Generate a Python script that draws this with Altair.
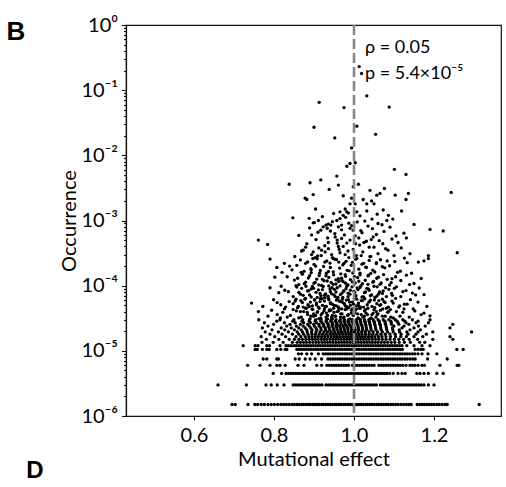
import math
import altair as alt
import pandas as pd

# ---------------- data ----------------
# discrete occurrence levels at the bottom (multiples of ~1.5e-6)
occ_levels = [1.5e-6, 3.0e-6, 4.5e-6, 6.0e-6, 7.5e-6, 9.0e-6, 1.05e-5, 1.2e-5, 1.35e-5, 1.5e-5,
              1.65e-5, 1.8e-5, 1.95e-5, 2.1e-5, 2.25e-5, 2.4e-5, 2.55e-5, 2.7e-5, 2.85e-5, 3.0e-5]

level_01_x = [0.695, 0.703, 0.735, 0.752, 0.759, 0.768, 0.776, 0.785, 0.793, 0.801, 0.809, 0.817, 0.824,
              0.831, 0.838, 0.845, 0.851, 0.857, 0.863, 0.869, 0.874, 0.880, 0.886, 0.891, 0.897, 0.902,
              0.908, 0.913, 0.919, 0.924, 0.930, 0.935, 0.941, 0.946, 0.952, 0.957, 0.963, 0.968, 0.974,
              0.979, 0.985, 0.990, 0.996, 1.001, 1.007, 1.012, 1.018, 1.023, 1.029, 1.034, 1.040, 1.045,
              1.051, 1.057, 1.062, 1.068, 1.074, 1.080, 1.086, 1.092, 1.098, 1.104, 1.110, 1.117, 1.124,
              1.131, 1.137, 1.143, 1.158, 1.164, 1.170, 1.176, 1.182, 1.188, 1.194, 1.200, 1.207, 1.213,
              1.220, 1.227, 1.233, 1.313]
level_02_x = [0.660, 0.731, 0.780, 0.793, 0.808, 0.825, 0.848, 0.854, 0.860, 0.866, 0.872, 0.878, 0.884,
              0.890, 0.896, 0.902, 0.908, 0.914, 0.920, 0.930, 0.936, 0.942, 0.948, 0.954, 0.960, 0.966,
              0.972, 0.978, 0.984, 0.990, 0.996, 1.002, 1.008, 1.014, 1.020, 1.026, 1.032, 1.038, 1.044,
              1.050, 1.056, 1.066, 1.072, 1.078, 1.084, 1.090, 1.096, 1.102, 1.108, 1.114, 1.120, 1.126,
              1.132, 1.138, 1.144, 1.150, 1.156, 1.162, 1.168, 1.175, 1.186, 1.200]
level_03_x = [0.798, 0.819, 0.830, 0.836, 0.842, 0.848, 0.854, 0.860, 0.866, 0.872, 0.878, 0.884, 0.890,
              0.896, 0.902, 0.908, 0.914, 0.920, 0.926, 0.932, 0.938, 0.944, 0.950, 0.956, 0.962, 0.968,
              0.974, 0.980, 0.986, 0.992, 0.998, 1.004, 1.010, 1.016, 1.022, 1.028, 1.034, 1.040, 1.046,
              1.052, 1.058, 1.064, 1.070, 1.076, 1.082, 1.089, 1.098, 1.110, 1.120, 1.128, 1.157, 1.165,
              1.175, 1.186, 1.207, 1.223]
level_04_x = [0.734, 0.765, 0.790, 0.807, 0.815, 0.828, 0.860, 0.875, 0.907, 0.919, 0.932, 0.938, 0.944,
              0.950, 0.956, 0.962, 0.968, 0.974, 0.980, 0.986, 0.996, 1.002, 1.008, 1.014, 1.020, 1.026,
              1.032, 1.038, 1.044, 1.050, 1.062, 1.068, 1.074, 1.080, 1.086, 1.092, 1.098, 1.104, 1.110,
              1.116, 1.122, 1.130, 1.140, 1.146, 1.152, 1.160, 1.170, 1.176, 1.215, 1.258, 1.262]
level_05_x = [0.773, 0.782, 0.807, 0.811, 0.853, 0.863, 0.878, 0.890, 0.903, 0.919, 0.935, 0.941, 0.947,
              0.953, 0.959, 0.965, 0.971, 0.977, 0.983, 0.989, 0.995, 1.001, 1.007, 1.013, 1.019, 1.025,
              1.031, 1.037, 1.043, 1.049, 1.055, 1.061, 1.067, 1.073, 1.079, 1.085, 1.091, 1.097, 1.103,
              1.109, 1.115, 1.121, 1.127, 1.133, 1.140, 1.147, 1.153, 1.184, 1.233]
level_06_x = [0.861, 0.869, 0.882, 0.894, 0.911, 0.923, 0.929, 0.935, 0.941, 0.947, 0.953, 0.959, 0.965,
              0.971, 0.977, 0.983, 0.989, 0.995, 1.001, 1.007, 1.013, 1.019, 1.025, 1.031, 1.037, 1.043,
              1.049, 1.055, 1.061, 1.067, 1.073, 1.079, 1.085, 1.091, 1.097, 1.103, 1.109, 1.115, 1.121,
              1.127, 1.133, 1.139, 1.146, 1.152, 1.160, 1.170, 1.185, 1.207]
level_07_x = [0.753, 0.758, 0.771, 0.782, 0.788, 0.807, 0.817, 0.828, 0.832, 0.857, 0.863, 0.869, 0.875,
              0.881, 0.887, 0.893, 0.899, 0.905, 0.911, 0.917, 0.923, 0.929, 0.935, 0.941, 0.947, 0.953,
              0.959, 0.965, 0.971, 0.977, 0.983, 0.989, 0.995, 1.001, 1.007, 1.013, 1.019, 1.025, 1.031,
              1.037, 1.043, 1.049, 1.055, 1.061, 1.067, 1.073, 1.079, 1.085, 1.091, 1.097, 1.103, 1.109,
              1.115, 1.121, 1.153, 1.160, 1.167, 1.173, 1.257, 1.273]
level_08_x = [0.723, 0.753, 0.760, 0.782, 0.789, 0.815, 0.830, 0.836, 0.843, 0.850, 0.856, 0.862, 0.868,
              0.874, 0.880, 0.886, 0.892, 0.898, 0.904, 0.910, 0.916, 0.922, 0.928, 0.934, 0.940, 0.946,
              0.952, 0.958, 0.964, 0.970, 0.976, 0.982, 0.988, 0.994, 1.000, 1.006, 1.012, 1.018, 1.024,
              1.030, 1.036, 1.042, 1.048, 1.054, 1.060, 1.066, 1.072, 1.078, 1.084, 1.090, 1.096, 1.102,
              1.108, 1.114, 1.120, 1.132, 1.150, 1.170, 1.190]
level_09_x = [0.770, 0.798, 0.823, 0.846, 0.858, 0.866, 0.874, 0.881, 0.889, 0.897, 0.905, 0.912, 0.920,
              0.927, 0.934, 0.941, 0.948, 0.955, 0.962, 0.969, 0.976, 0.983, 0.990, 0.997, 1.004, 1.011,
              1.018, 1.025, 1.032, 1.039, 1.046, 1.053, 1.060, 1.068, 1.076, 1.084, 1.093, 1.102, 1.113,
              1.126, 1.141, 1.164, 1.177]
level_10_x = [0.781, 0.812, 0.838, 0.851, 0.862, 0.871, 0.880, 0.888, 0.896, 0.903, 0.910, 0.918, 0.925,
              0.932, 0.940, 0.947, 0.954, 0.961, 0.968, 0.975, 0.982, 0.989, 0.996, 1.003, 1.010, 1.017,
              1.024, 1.031, 1.038, 1.046, 1.054, 1.062, 1.071, 1.080, 1.090, 1.101, 1.112, 1.124, 1.138,
              1.159, 1.197, 1.247]
level_11_x = [0.768, 0.802, 0.829, 0.855, 0.867, 0.878, 0.887, 0.895, 0.903, 0.911, 0.919, 0.927, 0.935,
              0.943, 0.951, 0.958, 0.965, 0.972, 0.979, 0.986, 0.993, 1.000, 1.007, 1.014, 1.021, 1.028,
              1.036, 1.044, 1.052, 1.061, 1.070, 1.080, 1.091, 1.104, 1.117, 1.131, 1.150, 1.172, 1.240]
level_12_x = [0.790, 0.820, 0.846, 0.862, 0.874, 0.885, 0.895, 0.904, 0.913, 0.922, 0.931, 0.940, 0.948,
              0.956, 0.964, 0.972, 0.980, 0.988, 0.996, 1.004, 1.012, 1.020, 1.029, 1.038, 1.047, 1.057,
              1.067, 1.078, 1.090, 1.103, 1.118, 1.135, 1.155, 1.181]
level_13_x = [0.778, 0.811, 0.836, 0.858, 0.871, 0.883, 0.894, 0.905, 0.915, 0.925, 0.934, 0.943, 0.952,
              0.961, 0.969, 0.977, 0.985, 0.993, 1.001, 1.010, 1.019, 1.028, 1.038, 1.048, 1.059, 1.071,
              1.084, 1.098, 1.114, 1.132, 1.160, 1.197, 1.294]
level_14_x = [0.795, 0.827, 0.851, 0.868, 0.882, 0.895, 0.907, 0.918, 0.929, 0.939, 0.949, 0.958, 0.967,
              0.976, 0.985, 0.994, 1.003, 1.012, 1.022, 1.032, 1.043, 1.055, 1.068, 1.082, 1.097, 1.113,
              1.140, 1.166]
level_15_x = [0.771, 0.818, 0.843, 0.862, 0.878, 0.892, 0.905, 0.917, 0.928, 0.938, 0.948, 0.957, 0.966,
              0.975, 0.984, 0.993, 1.002, 1.011, 1.021, 1.031, 1.042, 1.054, 1.067, 1.081, 1.096, 1.120,
              1.150, 1.240]
level_16_x = [0.785, 0.832, 0.856, 0.873, 0.888, 0.901, 0.913, 0.924, 0.935, 0.945, 0.955, 0.964, 0.973,
              0.982, 0.991, 1.000, 1.010, 1.020, 1.030, 1.041, 1.053, 1.066, 1.080, 1.100, 1.125, 1.161,
              1.178]
level_17_x = [0.799, 0.840, 0.866, 0.884, 0.899, 0.912, 0.924, 0.936, 0.947, 0.958, 0.968, 0.978, 0.988,
              0.998, 1.008, 1.018, 1.029, 1.040, 1.052, 1.065, 1.079, 1.094, 1.112, 1.137, 1.247]
level_18_x = [0.776, 0.826, 0.853, 0.874, 0.891, 0.906, 0.920, 0.933, 0.945, 0.956, 0.967, 0.977, 0.987,
              0.997, 1.007, 1.017, 1.028, 1.039, 1.051, 1.064, 1.078, 1.093, 1.110, 1.130, 1.155, 1.186]
level_19_x = [0.807, 0.847, 0.870, 0.888, 0.903, 0.917, 0.930, 0.942, 0.953, 0.964, 0.975, 0.985, 0.995,
              1.005, 1.016, 1.027, 1.038, 1.050, 1.063, 1.077, 1.092, 1.108, 1.127, 1.160]
level_20_x = [0.762, 0.815, 0.850, 0.872, 0.889, 0.904, 0.918, 0.931, 0.943, 0.955, 0.966, 0.976, 0.986,
              0.996, 1.006, 1.016, 1.026, 1.037, 1.048, 1.060, 1.073, 1.087, 1.103, 1.122, 1.146, 1.190]

level_x_lists = [level_01_x, level_02_x, level_03_x, level_04_x, level_05_x, level_06_x, level_07_x,
                 level_08_x, level_09_x, level_10_x, level_11_x, level_12_x, level_13_x, level_14_x,
                 level_15_x, level_16_x, level_17_x, level_18_x, level_19_x, level_20_x]

# cloud band 3e-5 .. 4.5e-5
band_a_x = [0.761, 0.785, 0.794, 0.808, 0.822, 0.833, 0.841, 0.848, 0.856, 0.862, 0.868, 0.874, 0.879,
            0.884, 0.890, 0.895, 0.899, 0.904, 0.908, 0.913, 0.917, 0.921, 0.926, 0.930, 0.934, 0.938,
            0.942, 0.946, 0.950, 0.954, 0.958, 0.962, 0.966, 0.970, 0.974, 0.978, 0.982, 0.986, 0.990,
            0.994, 0.998, 1.002, 1.006, 1.010, 1.014, 1.018, 1.022, 1.026, 1.030, 1.035, 1.040, 1.045,
            1.050, 1.055, 1.060, 1.066, 1.072, 1.078, 1.084, 1.091, 1.098, 1.106, 1.115, 1.125, 1.138,
            1.152, 1.175, 1.190]
band_a_y = [4.0e-5, 3.4e-5, 4.2e-5, 3.6e-5, 3.9e-5, 3.3e-5, 3.5e-5, 4.3e-5, 4.1e-5, 3.2e-5, 3.3e-5, 4.0e-5,
            4.5e-5, 3.6e-5, 3.1e-5, 4.4e-5, 3.4e-5, 3.5e-5, 3.9e-5, 4.5e-5, 3.2e-5, 3.8e-5, 4.4e-5, 3.3e-5,
            3.5e-5, 4.1e-5, 4.2e-5, 3.1e-5, 3.9e-5, 3.4e-5, 4.0e-5, 4.5e-5, 3.3e-5, 3.7e-5, 3.2e-5, 4.3e-5,
            4.4e-5, 3.6e-5, 3.1e-5, 4.2e-5, 3.5e-5, 3.8e-5, 4.4e-5, 3.2e-5, 4.5e-5, 3.6e-5, 3.3e-5, 4.1e-5,
            3.8e-5, 4.5e-5, 3.1e-5, 3.6e-5, 4.3e-5, 3.3e-5, 3.7e-5, 4.2e-5, 4.4e-5, 3.4e-5, 3.9e-5, 4.3e-5,
            3.2e-5, 4.0e-5, 3.4e-5, 4.4e-5, 3.3e-5, 4.1e-5, 3.8e-5, 3.45e-5]
# cloud band 4.5e-5 .. 6.5e-5
band_b_x = [0.744, 0.772, 0.799, 0.817, 0.829, 0.838, 0.848, 0.855, 0.861, 0.867, 0.873, 0.879, 0.885,
            0.891, 0.896, 0.901, 0.906, 0.911, 0.916, 0.921, 0.926, 0.931, 0.936, 0.941, 0.946, 0.951,
            0.956, 0.961, 0.966, 0.971, 0.976, 0.981, 0.986, 0.991, 0.996, 1.001, 1.006, 1.011, 1.016,
            1.021, 1.027, 1.033, 1.039, 1.045, 1.051, 1.057, 1.064, 1.071, 1.078, 1.086, 1.095, 1.104,
            1.114, 1.126, 1.141, 1.160, 1.182]
band_b_y = [5.4e-5, 4.8e-5, 6.1e-5, 5.1e-5, 4.7e-5, 5.7e-5, 5.3e-5, 6.2e-5, 4.8e-5, 5.9e-5, 4.7e-5, 6.4e-5,
            5.1e-5, 5.6e-5, 4.9e-5, 6.1e-5, 5.4e-5, 4.7e-5, 6.3e-5, 5.0e-5, 5.8e-5, 4.8e-5, 6.4e-5, 5.5e-5,
            5.2e-5, 4.9e-5, 6.0e-5, 4.7e-5, 5.7e-5, 6.2e-5, 5.3e-5, 4.8e-5, 6.1e-5, 5.0e-5, 5.6e-5, 6.4e-5,
            4.9e-5, 5.4e-5, 4.7e-5, 5.9e-5, 6.3e-5, 5.1e-5, 5.7e-5, 4.8e-5, 6.0e-5, 5.3e-5, 5.0e-5, 6.2e-5,
            5.5e-5, 4.7e-5, 5.8e-5, 6.4e-5, 4.9e-5, 5.2e-5, 6.1e-5, 5.6e-5, 4.8e-5]
# cloud band 6.5e-5 .. 1e-4
band_c_x = [0.790, 0.812, 0.836, 0.848, 0.857, 0.866, 0.873, 0.880, 0.887, 0.893, 0.899, 0.905, 0.911,
            0.917, 0.923, 0.929, 0.935, 0.940, 0.945, 0.950, 0.955, 0.960, 0.965, 0.970, 0.975, 0.980,
            0.985, 0.990, 0.995, 1.000, 1.005, 1.010, 1.015, 1.020, 1.026, 1.032, 1.038, 1.044, 1.050,
            1.057, 1.064, 1.071, 1.079, 1.087, 1.096, 1.106, 1.117, 1.130, 1.146, 1.163, 1.175]
band_c_y = [9.3e-5, 7.8e-5, 8.1e-5, 6.8e-5, 9.5e-5, 7.4e-5, 7.1e-5, 9.8e-5, 8.4e-5, 6.7e-5, 9.1e-5, 7.9e-5,
            8.6e-5, 7.0e-5, 9.7e-5, 7.5e-5, 6.9e-5, 8.9e-5, 9.3e-5, 7.2e-5, 8.0e-5, 6.6e-5, 9.9e-5, 7.7e-5,
            8.3e-5, 9.0e-5, 6.8e-5, 7.4e-5, 9.6e-5, 8.2e-5, 7.0e-5, 8.7e-5, 9.4e-5, 6.7e-5, 7.8e-5, 9.1e-5,
            8.5e-5, 7.2e-5, 9.8e-5, 6.9e-5, 8.0e-5, 7.6e-5, 9.3e-5, 8.8e-5, 7.1e-5, 9.6e-5, 6.8e-5, 8.4e-5,
            7.7e-5, 9.2e-5, 7.3e-5]
# cloud band 1e-4 .. 1.6e-4
band_d_x = [0.802, 0.833, 0.851, 0.862, 0.871, 0.879, 0.886, 0.893, 0.900, 0.907, 0.913, 0.919, 0.925,
            0.931, 0.937, 0.943, 0.949, 0.955, 0.961, 0.967, 0.973, 0.979, 0.985, 0.991, 0.997, 1.003,
            1.009, 1.015, 1.021, 1.028, 1.035, 1.042, 1.049, 1.057, 1.065, 1.074, 1.083, 1.093, 1.104,
            1.117, 1.131, 1.150, 1.168]
band_d_y = [1.35e-4, 1.37e-4, 1.22e-4, 1.04e-4, 1.50e-4, 1.13e-4, 1.31e-4, 1.58e-4, 1.09e-4, 1.26e-4,
            1.43e-4, 1.01e-4, 1.19e-4, 1.55e-4, 1.34e-4, 1.12e-4, 1.47e-4, 1.06e-4, 1.28e-4, 1.52e-4,
            1.15e-4, 1.39e-4, 1.03e-4, 1.24e-4, 1.57e-4, 1.10e-4, 1.33e-4, 1.46e-4, 1.07e-4, 1.21e-4,
            1.41e-4, 1.54e-4, 1.16e-4, 1.30e-4, 1.05e-4, 1.48e-4, 1.25e-4, 1.11e-4, 1.37e-4, 1.20e-4,
            1.45e-4, 1.08e-4, 1.29e-4]
# cloud band 1.6e-4 .. 2.6e-4
band_e_x = [0.790, 0.807, 0.826, 0.845, 0.857, 0.866, 0.875, 0.884, 0.892, 0.900, 0.908, 0.916, 0.924,
            0.932, 0.940, 0.948, 0.956, 0.964, 0.972, 0.980, 0.988, 0.996, 1.004, 1.012, 1.020, 1.029,
            1.038, 1.047, 1.056, 1.066, 1.077, 1.089, 1.102, 1.116, 1.133, 1.161, 1.175, 1.186]
band_e_y = [2.56e-4, 1.90e-4, 2.20e-4, 1.75e-4, 2.05e-4, 2.48e-4, 1.66e-4, 2.31e-4, 1.82e-4, 2.12e-4,
            2.58e-4, 1.71e-4, 1.97e-4, 2.40e-4, 2.22e-4, 1.63e-4, 2.52e-4, 1.86e-4, 2.08e-4, 2.36e-4,
            1.69e-4, 2.27e-4, 2.55e-4, 1.79e-4, 2.14e-4, 1.93e-4, 2.44e-4, 1.73e-4, 2.18e-4, 2.50e-4,
            1.88e-4, 2.02e-4, 2.34e-4, 1.67e-4, 2.25e-4, 2.30e-4, 2.40e-4, 2.60e-4]

# sparser upper cloud and isolated high points (effect, occurrence)
cloud_upper = [
    (0.761, 5.0e-4), (0.784, 4.3e-4), (0.852, 2.8e-4), (0.869, 3.4e-4), (0.873, 3.5e-4), (0.882, 4.4e-4),
    (0.894, 3.0e-4), (0.903, 2.7e-4), (0.912, 3.8e-4), (0.919, 3.5e-4), (0.928, 3.3e-4), (0.936, 4.6e-4),
    (0.944, 3.0e-4), (0.948, 2.6e-4), (0.953, 5.6e-4), (0.958, 5.0e-4), (0.961, 4.0e-4), (0.965, 3.2e-4),
    (0.969, 5.3e-4), (0.973, 4.0e-4), (0.978, 3.0e-4), (0.982, 4.5e-4), (0.990, 5.0e-4), (0.998, 3.6e-4),
    (1.006, 2.9e-4), (1.014, 4.2e-4), (1.022, 3.3e-4), (1.031, 4.8e-4), (1.040, 2.8e-4), (1.050, 3.9e-4),
    (1.060, 3.1e-4), (1.072, 4.4e-4), (1.085, 3.5e-4), (1.100, 2.9e-4), (1.118, 3.8e-4), (1.140, 3.1e-4),
    (1.186, 2.9e-4), (1.258, 3.2e-4),
    (0.894, 6.0e-4), (0.898, 9.2e-4), (0.911, 1.0e-3), (0.917, 7.1e-4), (0.923, 8.0e-4), (0.930, 8.5e-4),
    (0.936, 8.8e-4), (0.942, 8.5e-4), (0.933, 7.6e-4), (0.957, 1.0e-3), (0.965, 1.07e-3), (0.961, 8.0e-4),
    (0.969, 8.5e-4), (0.990, 7.6e-4), (0.998, 7.1e-4), (0.847, 1.1e-3), (0.888, 1.08e-3), (0.901, 9.3e-4),
    (1.008, 9.5e-4), (1.020, 6.5e-4), (1.035, 8.2e-4), (1.048, 5.6e-4), (1.060, 9.0e-4), (1.075, 6.8e-4),
    (1.090, 7.9e-4), (1.105, 5.8e-4), (1.125, 6.4e-4), (1.150, 8.7e-4), (1.190, 7.3e-4), (1.223, 6.9e-4),
    (1.045, 1.05e-3), (1.082, 1.0e-3),
    (0.973, 1.2e-3), (0.982, 1.36e-3), (0.965, 1.36e-3), (0.978, 1.5e-3), (0.986, 1.3e-3), (1.007, 1.36e-3),
    (1.032, 1.4e-3), (1.073, 1.45e-3), (1.086, 1.2e-3), (1.119, 1.4e-3), (0.904, 1.5e-3), (0.990, 1.8e-3),
    (1.003, 1.8e-3), (1.032, 1.8e-3), (1.050, 1.8e-3), (1.044, 2.0e-3), (1.023, 2.1e-3), (0.994, 2.2e-3),
    (0.878, 2.2e-3), (0.882, 2.1e-3), (0.973, 2.4e-3), (0.898, 2.5e-3), (1.057, 2.45e-3), (1.065, 2.6e-3),
    (1.103, 2.45e-3), (1.130, 2.1e-3), (1.136, 2.6e-3), (1.243, 2.7e-3), (0.938, 3.0e-3), (1.076, 3.1e-3),
    (1.040, 2.9e-3), (0.998, 3.3e-3), (0.838, 3.6e-3), (0.890, 3.8e-3), (0.917, 4.2e-3), (0.961, 3.5e-3),
    (1.011, 3.6e-3), (0.957, 4.8e-3), (1.101, 6.1e-3), (1.130, 5.1e-3), (0.982, 6.8e-3), (0.990, 7.5e-3),
    (1.003, 7.7e-3), (0.994, 1.3e-2), (0.952, 1.85e-2), (1.054, 2.1e-2), (0.900, 2.7e-2), (1.007, 2.8e-2),
    (0.975, 5.4e-2), (1.088, 5.5e-2), (0.913, 6.5e-2), (1.032, 8.2e-2), (1.019, 0.18), (1.013, 0.23),
    (0.952, 6.3e-4), (1.012, 5.4e-4), (0.927, 4.1e-4), (1.046, 7.5e-4), (0.987, 9.1e-4), (0.905, 5.1e-4),
    (1.063, 4.9e-4), (0.963, 3.6e-4), (1.027, 9.8e-4), (0.941, 6.9e-4), (1.004, 4.4e-4), (0.889, 7.7e-4),
    (1.079, 3.7e-4), (0.976, 6.0e-4), (1.038, 3.9e-4), (0.918, 2.9e-4), (0.994, 8.3e-4), (1.095, 5.2e-4),
    (0.934, 5.4e-4), (1.017, 7.0e-4), (0.958, 4.5e-4), (1.056, 6.1e-4), (0.879, 3.9e-4), (0.985, 3.4e-4),
    (1.110, 4.6e-4), (0.946, 9.6e-4), (1.025, 4.6e-4), (0.910, 6.6e-4), (1.070, 8.6e-4), (0.969, 7.2e-4),
    (1.003, 5.8e-4), (0.936, 3.7e-4), (1.043, 5.1e-4), (0.898, 3.3e-4), (1.131, 5.4e-4), (0.862, 5.9e-4),
    (0.979, 1.12e-3), (1.015, 1.18e-3), (0.921, 1.15e-3), (1.058, 1.25e-3), (0.949, 1.28e-3), (1.097, 1.05e-3),
]

# further points filling the dark core of the cloud (effect, occurrence)
cloud_core = [
    (0.912, 3.1e-5), (0.987, 4.6e-5), (1.043, 3.2e-5), (0.871, 5.5e-5), (0.953, 3.4e-5), (1.067, 5.1e-5),
    (0.928, 4.8e-5), (1.009, 3.7e-5), (0.897, 4.3e-5), (1.092, 3.3e-5), (0.963, 5.8e-5), (1.024, 4.7e-5),
    (0.946, 3.5e-5), (0.883, 3.9e-5), (1.056, 4.0e-5), (0.999, 5.2e-5), (0.937, 6.1e-5), (1.013, 3.1e-5),
    (0.969, 4.4e-5), (0.906, 5.1e-5), (1.081, 4.5e-5), (0.918, 3.6e-5), (1.037, 5.6e-5), (0.975, 3.3e-5),
    (0.859, 4.6e-5), (1.003, 4.2e-5), (0.941, 5.3e-5), (1.112, 4.7e-5), (0.892, 3.4e-5), (0.981, 6.0e-5),
    (1.048, 3.8e-5), (0.925, 4.1e-5), (1.018, 5.9e-5), (0.956, 4.9e-5), (0.877, 6.2e-5), (1.071, 3.4e-5),
    (0.993, 3.8e-5), (0.934, 3.1e-5), (1.029, 4.3e-5), (0.902, 6.0e-5), (0.961, 4.1e-5), (1.062, 5.9e-5),
    (0.915, 5.7e-5), (0.984, 3.5e-5), (1.098, 5.4e-5), (0.949, 4.5e-5), (1.034, 3.6e-5), (0.866, 4.0e-5),
    (1.007, 6.2e-5), (0.972, 5.5e-5), (0.888, 4.8e-5), (1.052, 4.6e-5), (0.931, 3.8e-5), (1.015, 4.5e-5),
    (0.958, 6.2e-5), (1.086, 4.0e-5), (0.909, 4.0e-5), (0.978, 4.9e-5), (1.041, 6.0e-5), (0.944, 3.3e-5),
    (0.853, 5.8e-5), (1.122, 3.9e-5), (0.996, 4.4e-5), (0.920, 6.3e-5), (1.026, 3.4e-5), (0.967, 3.7e-5),
    (1.075, 5.7e-5), (0.881, 4.5e-5), (0.951, 5.0e-5), (1.011, 5.0e-5), (0.989, 5.6e-5), (0.939, 4.3e-5),
    (1.058, 3.6e-5), (0.899, 3.7e-5), (1.133, 5.2e-5), (0.826, 4.4e-5), (0.816, 3.2e-5), (1.148, 4.4e-5),
    (0.808, 5.5e-5), (1.168, 3.6e-5),
    (0.903, 1.12e-4), (0.972, 6.6e-5), (1.036, 8.9e-5), (0.948, 1.05e-4), (0.884, 8.3e-5), (1.012, 1.17e-4),
    (0.927, 6.5e-5), (1.061, 7.4e-5), (0.991, 8.5e-5), (0.862, 7.9e-5), (0.958, 9.3e-5), (1.089, 1.02e-4),
    (0.915, 7.6e-5), (1.024, 6.7e-5), (0.979, 1.09e-4), (0.941, 8.1e-5), (1.047, 1.13e-4), (0.896, 9.7e-5),
    (1.003, 6.9e-5), (0.933, 1.18e-4), (1.073, 8.3e-5), (0.966, 7.3e-5), (0.876, 1.07e-4), (1.017, 9.9e-5),
    (0.953, 6.8e-5), (1.101, 9.1e-5), (0.921, 8.7e-5), (0.985, 7.7e-5), (1.041, 7.0e-5), (0.908, 6.6e-5),
    (0.996, 1.14e-4), (1.058, 9.6e-5), (0.944, 7.5e-5), (0.869, 9.1e-5), (1.029, 8.0e-5), (0.962, 1.16e-4),
    (1.081, 6.8e-5), (0.889, 7.2e-5), (1.008, 9.2e-5), (0.937, 9.9e-5), (1.122, 8.1e-5), (0.974, 8.3e-5),
    (0.912, 1.03e-4), (1.052, 6.6e-5), (0.827, 8.5e-5), (1.139, 1.04e-4), (0.982, 9.8e-5), (0.926, 7.1e-5),
    (1.068, 1.10e-4), (0.855, 1.00e-4), (1.002, 7.9e-5), (0.951, 8.8e-5), (1.035, 1.05e-4), (0.893, 8.9e-5),
    (1.154, 7.2e-5), (0.818, 9.8e-5), (0.970, 1.20e-4), (1.094, 7.6e-5),
    (0.936, 1.65e-4), (1.007, 2.60e-4), (0.889, 1.42e-4), (1.052, 1.62e-4), (0.962, 2.30e-4), (0.921, 1.25e-4),
    (1.031, 1.90e-4), (0.978, 1.47e-4), (0.904, 2.00e-4), (1.083, 2.40e-4), (0.946, 2.70e-4), (1.015, 1.55e-4),
    (0.868, 1.60e-4), (0.993, 2.05e-4), (1.061, 1.35e-4), (0.927, 2.30e-4), (1.042, 2.80e-4), (0.955, 1.23e-4),
    (0.897, 2.60e-4), (1.109, 1.60e-4), (0.983, 1.72e-4), (0.914, 1.55e-4), (1.024, 2.20e-4), (0.969, 1.30e-4),
    (1.071, 1.95e-4), (0.941, 1.90e-4), (0.879, 2.20e-4), (1.001, 1.38e-4), (1.095, 1.28e-4), (0.952, 2.55e-4),
    (1.036, 1.45e-4), (0.909, 2.85e-4), (0.987, 2.70e-4), (1.126, 2.65e-4), (0.859, 1.30e-4), (1.056, 2.25e-4),
    (0.930, 1.42e-4), (1.018, 2.90e-4), (0.975, 2.20e-4), (0.893, 1.75e-4), (1.144, 1.55e-4), (0.839, 2.00e-4),
    (0.820, 1.60e-4),
]

x_tick_values = [0.6, 0.8, 1.0, 1.2]
y_decades = [1e-6, 1e-5, 1e-4, 1e-3, 1e-2, 1e-1, 1e0]
y_decade_labels = ["10⁻⁶", "10⁻⁵", "10⁻⁴", "10⁻³", "10⁻²", "10⁻¹", "10⁰"]
annotation_text = ["ρ = 0.05", "p = 5.4×10⁻⁵"]
annotation_effect = [1.0275, 1.0275]
annotation_occurrence = [0.37, 0.148]
reference_effect = [1.0]

# ---------------- build tables ----------------
eff, occ = [], []
for lvl, xs in zip(occ_levels, level_x_lists):
    eff += xs
    occ += [lvl] * len(xs)
for bx, by in [(band_a_x, band_a_y), (band_b_x, band_b_y), (band_c_x, band_c_y),
               (band_d_x, band_d_y), (band_e_x, band_e_y)]:
    eff += bx
    occ += by
for xv, yv in cloud_upper + cloud_core:
    eff.append(xv)
    occ.append(yv)
points = pd.DataFrame({"effect": eff, "occurrence": occ})

y_tick_values = [m * d for d in y_decades[:-1] for m in range(1, 10)] + [1.0]

FONT = "Lato"
r = "round(log(datum.value)/LN10)"
label_expr = f"abs(log(datum.value)/LN10 - {r}) > 0.001 ? '' : " + " : ".join(
    f"{r} == {round(math.log10(d))} ? '{lab}'" for d, lab in zip(y_decades, y_decade_labels)
) + " : ''"
is_major = f"abs(log(datum.value)/LN10 - {r}) < 0.001"

xscale = alt.Scale(domain=[0.43, 1.3675], nice=False, zero=False)
yscale = alt.Scale(type="log", domain=[1e-6, 1.0], nice=False)

x_axis = alt.Axis(values=x_tick_values, format=".1f", title="Mutational effect", grid=False,
                  tickSize=4, labelPadding=5, titlePadding=4, labelFontSize=20, titleFontSize=20,
                  labelFont=FONT, titleFont=FONT, titleFontWeight="normal")
y_axis = alt.Axis(values=y_tick_values, labelExpr=label_expr, title="Occurrence", grid=False,
                  tickSize={"condition": {"test": is_major, "value": 4.5}, "value": 2.5},
                  labelOverlap=False, labelPadding=4, titlePadding=1, labelFontSize=20, titleFontSize=20,
                  labelFont=FONT, titleFont=FONT, titleFontWeight="normal")

dots = alt.Chart(points).mark_circle(size=11, color="black", opacity=1).encode(
    x=alt.X("effect:Q", scale=xscale, axis=x_axis),
    y=alt.Y("occurrence:Q", scale=yscale, axis=y_axis),
)

rule = alt.Chart(pd.DataFrame({"effect": reference_effect})).mark_rule(
    color="#878787", strokeWidth=2.6, strokeDash=[10, 4]
).encode(x=alt.X("effect:Q", scale=xscale))

notes = alt.Chart(pd.DataFrame({"effect": annotation_effect, "occurrence": annotation_occurrence,
                                "label": annotation_text})).mark_text(
    align="left", baseline="alphabetic", fontSize=18, font=FONT, color="black"
).encode(
    x=alt.X("effect:Q", scale=xscale),
    y=alt.Y("occurrence:Q", scale=yscale),
    text="label:N",
)

panel_b = alt.Chart(pd.DataFrame({"t": ["B"]})).mark_text(
    fontSize=26, fontWeight="bold", font="Liberation Sans", color="black", align="center", baseline="middle"
).encode(text="t:N", x=alt.value(-110), y=alt.value(7))
panel_d = alt.Chart(pd.DataFrame({"t": ["D"]})).mark_text(
    fontSize=24, fontWeight="bold", font="Liberation Sans", color="black", align="center", baseline="middle"
).encode(text="t:N", x=alt.value(-91), y=alt.value(446))

chart = alt.layer(dots, rule, notes, panel_b, panel_d).properties(
    width=375, height=391,
    padding={"left": 126, "top": 25, "right": 5, "bottom": 71},
    autosize=alt.AutoSizeParams(type="none"),
    background="white",
).configure_view(stroke="#111111", strokeWidth=1.2).configure_axis(
    domainColor="#111111", tickColor="#111111", labelColor="black", titleColor="black", domainWidth=1.2,
    tickWidth=1.1
)

chart.save("out.html", embed_options={"renderer": "svg", "actions": False})
